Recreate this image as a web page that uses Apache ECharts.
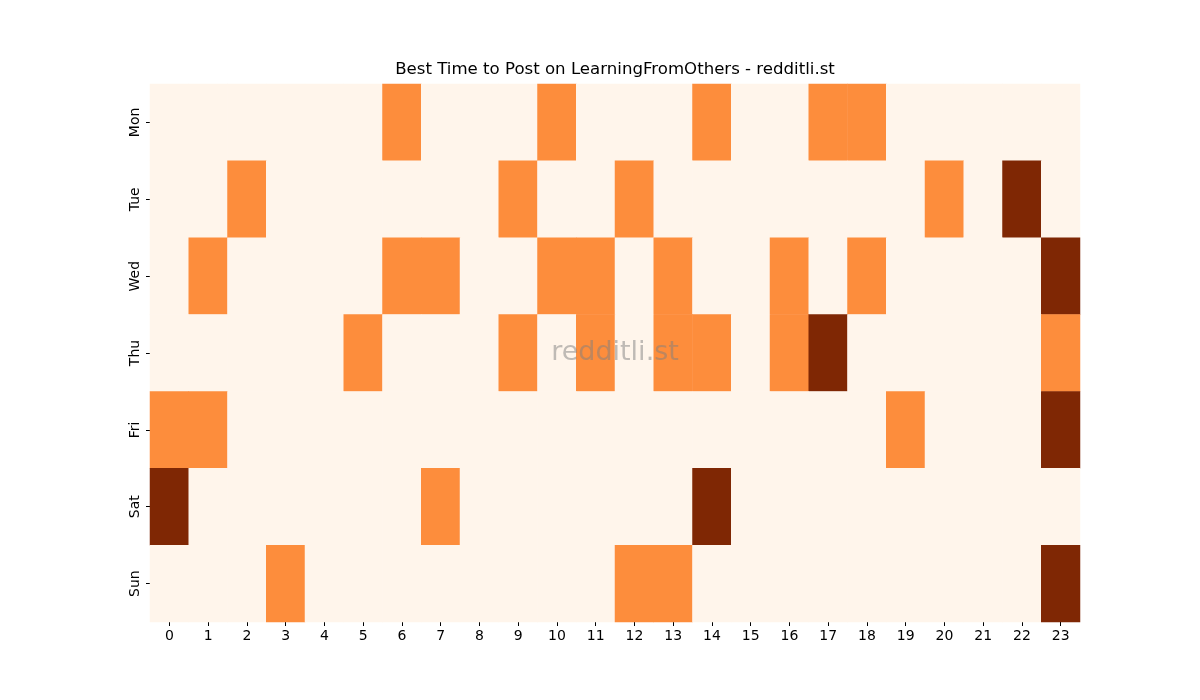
<!DOCTYPE html>
<html>
<head>
<meta charset="utf-8">
<script src="https://cdn.jsdelivr.net/npm/echarts@6/dist/echarts.min.js"></script>
<style>
  html, body { margin: 0; padding: 0; background: #fff; }
  #main { width: 1200px; height: 700px; }
</style>
</head>
<body>
<div id="main"></div>
<script>
// hours on the x axis
var hours = ['0','1','2','3','4','5','6','7','8','9','10','11','12','13','14','15','16','17','18','19','20','21','22','23'];
// days on the y axis, top to bottom
var days = ['Mon','Tue','Wed','Thu','Fri','Sat','Sun'];

// post counts per hour, one array per day
var monVals = [0,0,0,0,0,0,1,0,0,0,1,0,0,0,1,0,0,1,1,0,0,0,0,0];
var tueVals = [0,0,1,0,0,0,0,0,0,1,0,0,1,0,0,0,0,0,0,0,1,0,2,0];
var wedVals = [0,1,0,0,0,0,1,1,0,0,1,1,0,1,0,0,1,0,1,0,0,0,0,2];
var thuVals = [0,0,0,0,0,1,0,0,0,1,0,1,0,1,1,0,1,2,0,0,0,0,0,1];
var friVals = [1,1,0,0,0,0,0,0,0,0,0,0,0,0,0,0,0,0,0,1,0,0,0,2];
var satVals = [2,0,0,0,0,0,0,1,0,0,0,0,0,0,2,0,0,0,0,0,0,0,0,0];
var sunVals = [0,0,0,1,0,0,0,0,0,0,0,0,1,1,0,0,0,0,0,0,0,0,0,2];

var allRows = [monVals, tueVals, wedVals, thuVals, friVals, satVals, sunVals];

// heatmap data [x, y, value]
var heatData = [];
for (var d = 0; d < allRows.length; d++) {
  for (var h = 0; h < hours.length; h++) {
    heatData.push([h, d, allRows[d][h]]);
  }
}

var myChart = echarts.init(document.getElementById('main'));
var font = 'DejaVu Sans';

var option = {
  backgroundColor: '#ffffff',
  animation: false,
  grid: { left: 150, right: 120, top: 84, bottom: 78 },
  xAxis: {
    type: 'category',
    data: hours,
    axisLine: { show: false },
    axisTick: { show: true, alignWithLabel: true, length: 4, lineStyle: { color: '#000' } },
    axisLabel: { fontFamily: font, fontSize: 14, color: '#000', margin: 7 },
    splitLine: { show: false }
  },
  yAxis: {
    type: 'category',
    data: days,
    inverse: true,
    axisLine: { show: false },
    axisTick: { show: true, alignWithLabel: true, length: 4, lineStyle: { color: '#000' } },
    axisLabel: { fontFamily: font, fontSize: 14, color: '#000', rotate: 90, margin: 8 },
    splitLine: { show: false }
  },
  visualMap: {
    show: false,
    min: 0,
    max: 2,
    dimension: 2,
    inRange: { color: ['#fff5eb', '#fd8d3c', '#7f2704'] }
  },
  series: [{
    type: 'heatmap',
    data: heatData,
    itemStyle: { borderWidth: 0 },
    emphasis: { disabled: true }
  }],
  graphic: [{
    type: 'text',
    x: 615,
    y: 70,
    z: 100,
    style: {
      text: 'Best Time to Post on LearningFromOthers - redditli.st',
      font: '16.6px "DejaVu Sans"',
      fill: '#000',
      align: 'center',
      verticalAlign: 'middle'
    }
  }, {
    type: 'text',
    x: 615,
    y: 353,
    z: 100,
    style: {
      text: 'redditli.st',
      font: '27px "DejaVu Sans"',
      fill: 'rgba(128,128,128,0.5)',
      align: 'center',
      verticalAlign: 'middle'
    }
  }]
};

myChart.setOption(option);
</script>
</body>
</html>
